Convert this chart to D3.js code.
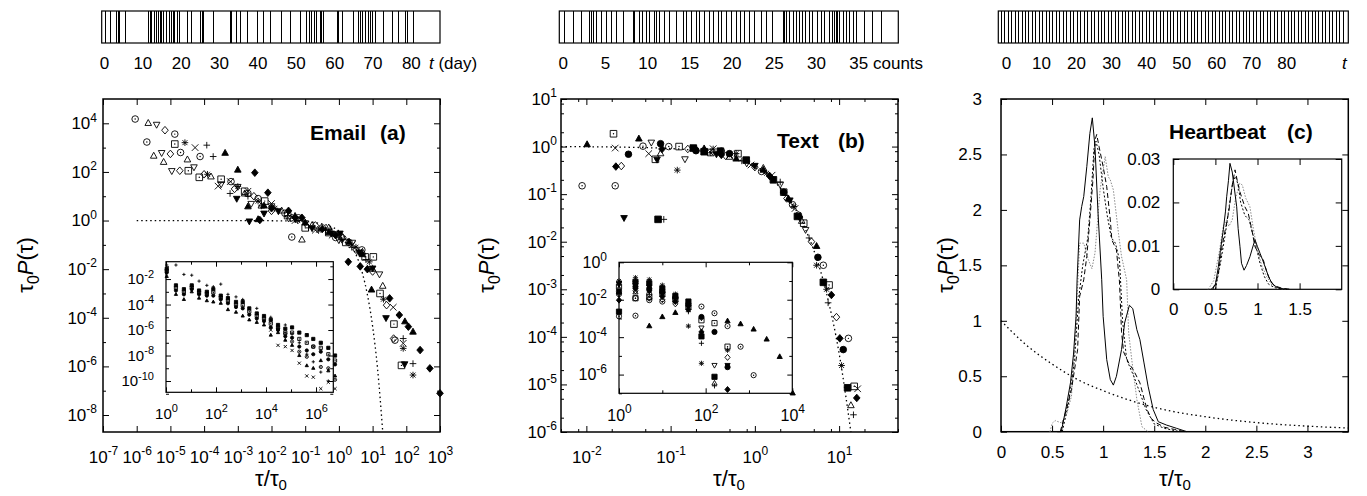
<!DOCTYPE html>
<html>
<head>
<meta charset="utf-8">
<title>Interevent time distributions</title>
<script src="https://d3js.org/d3.v7.min.js"></script>
<style>
  body { margin: 0; background: #fff; }
  text { fill: #000; }
</style>
</head>
<body>
<svg id="chart" width="1367" height="496"></svg>
<script>
// ---------- top strips: event times ----------
const emailDays = [0.5, 1.7, 3.3, 3.7, 4.0, 5.5, 11.6, 12.0, 12.4, 13.1, 13.6, 14.2, 14.6, 15.1, 15.5, 16.2, 17.2, 17.7, 18.1, 18.5, 19.1, 19.8, 21.7, 22.9, 25.2, 25.6, 25.9, 28.5, 32.9, 33.3, 34.6, 35.5, 37.3, 40.1, 41.6, 43.3, 46.4, 48.6, 51.2, 52.7, 53.6, 54.2, 54.8, 55.5, 56.4, 56.8, 57.3, 60.8, 61.2, 62.1, 65.1, 66.4, 66.8, 67.3, 68.1, 69.0, 69.5, 69.9, 70.8, 72.9, 75.1, 76.9, 78.6, 79.0, 80.8];
const emailDayTicks = [0, 10, 20, 30, 40, 50, 60, 70, 80];
const textCounts = [0.27, 1.26, 2.24, 3.23, 3.42, 3.62, 4.0, 4.6, 5.2, 5.8, 6.4, 7.2, 8.35, 8.55, 9.14, 9.5, 9.9, 10.3, 10.9, 11.1, 11.5, 12.1, 12.7, 13.5, 14.3, 14.7, 15.2, 15.8, 16.2, 16.8, 17.4, 17.8, 18.4, 18.8, 19.4, 20.0, 20.6, 21.0, 21.5, 22.1, 22.7, 23.5, 24.1, 24.9, 26.1, 26.3, 26.5, 26.9, 27.3, 27.7, 28.0, 28.4, 28.8, 29.2, 29.6, 30.2, 30.6, 31.0, 31.6, 32.0, 32.2, 32.4, 32.6, 32.8, 33.2, 33.6, 34.0, 34.4, 34.8, 35.7, 36.7, 37.7];
const textCountTicks = [0, 5, 10, 15, 20, 25, 30, 35];
const heartBeats = [-1.4, -0.4, 0.6, 1.6, 2.6, 3.6, 4.6, 5.5, 6.5, 7.5, 8.5, 9.5, 10.5, 11.5, 12.5, 13.4, 14.4, 15.4, 16.4, 17.4, 18.4, 19.4, 20.3, 21.3, 22.3, 23.3, 24.3, 25.3, 26.3, 27.2, 28.2, 29.2, 30.2, 31.2, 32.2, 33.2, 34.1, 35.1, 36.1, 37.1, 38.1, 39.1, 40.1, 41.0, 42.0, 43.0, 44.0, 45.0, 46.0, 47.0, 47.9, 48.9, 49.9, 50.9, 51.9, 52.9, 53.9, 54.8, 55.8, 56.8, 57.8, 58.8, 59.8, 60.8, 61.7, 62.7, 63.7, 64.7, 65.7, 66.7, 67.7, 68.6, 69.6, 70.6, 71.6, 72.6, 73.6, 74.6, 75.5, 76.5, 77.5, 78.5, 79.5, 80.5, 81.5, 82.4, 83.4, 84.4, 85.4, 86.4, 87.4, 88.4, 89.3, 90.3, 91.3, 92.3, 93.3, 94.3, 95.3, 96.2];
const heartTicks = [0, 10, 20, 30, 40, 50, 60, 70, 80];

// ---------- (a) Email: [tau/tau0, tau0 P(tau)] ----------
const emailCirc = [[9e-7,1.5e4],[2e-6,1.7e3],[1.35e-5,3.6e3],[2e-5,630],[7.6e-5,430],[6.3e-4,40],[2e-3,13],[4e-3,8],[0.025,2],[0.04,0.21],[0.063,1.3],[0.32,0.5],[0.8,0.2],[2,0.126],[4.8,0.062],[46,1.2e-5]];
const emailTri = [[2.2e-6,1e4],[3.2e-6,450],[6.3e-6,250],[3.2e-5,316],[1.6e-4,63],[1.6e-3,12.6],[5e-3,4],[0.02,2.5],[0.08,0.16],[0.16,0.63],[0.5,0.5],[1.26,0.2],[5,0.05],[10,0.01],[20,2e-3]];
const emailTriD = [[3.9e-6,9e3],[5.5e-6,620],[1.1e-5,112],[5e-5,160],[3.2e-4,32],[1e-3,25],[2.5e-3,5],[0.01,4],[0.032,1.26],[0.1,0.8],[0.5,0.4],[1,0.16],[2.5,0.126],[16,6.3e-3]];
const emailDia = [[6.9e-6,5.2e3],[1e-5,550],[1.9e-5,112],[1e-4,80],[8e-4,20],[3e-3,10],[0.01,2.5],[0.04,1.3],[0.2,0.63],[1.3,0.2],[3.2,0.063],[10,8e-3],[26,3.3e-4],[42,1.4e-5]];
const emailSq = [[1.35e-5,1.4e3],[3.4e-5,112],[7.2e-5,60],[3.2e-4,50],[1.6e-3,16],[6.3e-3,6.3],[0.03,1.6],[0.1,0.5],[0.5,0.32],[1.6,0.126],[6,0.032],[10.5,0.032],[16.6,1e-3],[43,5.5e-5],[72,1.1e-6]];
const emailStar = [[2.7e-5,1.6e3],[1.26e-4,80],[1e-3,25],[4e-3,6.3],[0.0126,3.2],[0.06,1.0],[0.25,0.4],[1.2,0.16],[3.2,0.08],[8,0.02],[21,5.8e-4],[81,5.5e-6],[158,4.4e-7]];
const emailCross = [[5.4e-5,1e3],[2.6e-4,26],[6e-4,40],[2e-3,16],[0.01,5],[0.05,1],[0.2,0.4],[0.63,0.25],[2.5,0.1],[4,0.05],[41,2.7e-4],[81,8.9e-6]];
const emailPlus = [[1.2e-4,1.26e3],[1.86e-4,430],[5.9e-4,13],[2e-3,10],[5e-3,4],[0.03,1.6],[0.126,0.5],[0.4,0.4],[2.4,0.08],[6.3,0.025],[81,1.4e-5],[158,1.3e-6]];
const emailTriF = [[4.2e-4,590],[1e-3,120],[2e-3,3.7],[4e-3,1.1],[6e-3,4],[0.05,1.5],[0.1,0.8],[0.5,0.32],[2,0.13],[5,0.04],[9.3,1.4e-3],[91,6.9e-5],[158,2.6e-5]];
const emailDiaF = [[3.2e-3,93],[4.5e-3,1.05],[7.8e-3,14],[0.01,3.2],[0.032,2.5],[0.08,1.3],[0.32,0.45],[0.8,0.25],[1.9,0.02],[4.3,0.013],[7,0.01],[32,6.3e-4],[62,1.3e-4],[115,4.3e-5],[257,4.7e-6],[500,8.3e-7],[1000,7.8e-8]];
const emailTriDF = [[9.3e-4,8.1],[2.2e-3,0.95],[6e-3,2],[0.016,2.5],[0.05,1.2],[0.16,0.5],[0.6,0.3],[1.07,0.3],[4,0.05],[10,0.011],[25,1e-4],[89,1.26e-6]];
const emailPoisson = [[1e-6,1],[1e-3,1],[0.05,0.95],[0.2,0.82],[0.5,0.61],[1,0.37],[2,0.135],[3,0.05],[5,6.7e-3],[7,9e-4],[10,4.5e-5],[14,8.3e-7],[20,2e-9]];

// (a) inset: raw tau (columns) vs P(tau)
const emailInsetX = [1.07, 2.5, 5.2, 10.7, 21, 43, 78, 155, 300, 630, 1170, 2140, 4270, 8300, 15500, 30200, 59000, 110000, 214000, 427000, 776000, 1.55e6, 3.1e6, 5.75e6];
const emailInTop = [0.126, 0.126, 2.3e-2, 2e-2, 6.9e-3, 3.2e-3, 2.5e-3, 4e-3, 6.3e-4, 4e-4, 2.5e-4, null, 5e-5, null, 1e-5, null, 2.5e-6, 5e-7, 1e-7, 1.26e-8, 3.2e-9, 5e-10, 1e-10, null];
const emailInHi = [6.3e-2, 3.2e-3, 1.6e-3, 3.2e-3, 1.26e-3, 1e-3, 1.6e-3, 5e-4, 3.2e-4, 1.6e-4, 1.6e-4, 5e-5, 2e-5, 1.26e-5, 6.3e-6, 2.5e-6, 1.26e-6, 1.6e-6, 6.3e-7, 4e-7, 2e-7, 1e-7, 4e-8, 1e-8];
const emailInMid1 = [4.5e-2, 2e-3, 1e-3, 2.2e-3, 8.9e-4, 7e-4, 8.9e-4, 3.5e-4, 2e-4, 1e-4, 8.9e-5, 2.8e-5, 1.26e-5, 8e-6, 3.2e-6, 1.6e-6, 6.3e-7, 6.3e-7, 2e-7, 1e-7, 5e-8, 4e-8, 1.26e-8, 4e-9];
const emailInMid2 = [3.2e-2, 1.26e-3, 6.3e-4, 1.6e-3, 6.3e-4, 5e-4, 5e-4, 2.5e-4, 1.26e-4, 6.3e-5, 5e-5, 1.6e-5, 8e-6, 5e-6, 1.6e-6, 1e-6, 3.2e-7, 2.5e-7, 5e-8, 2.5e-8, 1.26e-8, 2e-8, 5e-9, 2e-9];
const emailInLo = [1.6e-2, 6.3e-4, 2.5e-4, 1e-3, 3.2e-4, 2e-4, 1.6e-4, 1.26e-4, 4e-5, 2.5e-5, 1.26e-5, 6.3e-6, 4e-6, 2.5e-6, 4e-7, 6.3e-7, 1.6e-7, 6.3e-8, 1e-8, 1.6e-9, 1e-9, 4e-9, 6.3e-10, 2.5e-10];
const emailInTail1 = [null, null, null, null, null, null, null, null, null, null, null, null, null, null, 1e-6, 6.3e-8, 5e-8, 2.5e-8, 2.5e-9, 2.5e-10, 2e-10, 2.5e-11, 8e-11, 2.5e-11];
const emailInTail2 = [null, null, null, null, null, null, null, null, null, null, null, null, null, null, null, 1.26e-6, 5e-7, 1.26e-7, 2e-8, 8e-9, 5e-8, 1.26e-9, 1e-9, 1.26e-10];

// ---------- (b) Text ----------
const textTriF = [[0.0102,1.1],[0.042,1.45],[0.25,0.9],[0.6,0.55],[1.26,0.32],[2.5,0.08],[5.4,8e-3]];
const textCross = [[0.022,0.93],[0.055,0.71],[0.32,0.9],[0.9,0.41],[1.6,0.25],[3,0.05],[16.6,8.1e-6]];
const textSq = [[0.021,1.86],[0.066,0.54],[0.126,1.0],[0.3,0.75],[0.63,0.71],[2.2,0.11],[3.8,0.0245],[7.6,1.23e-3],[15.1,9.1e-6]];
const textTriD = [[0.059,1.23],[0.148,0.55],[0.25,0.8],[0.8,0.45],[2,0.16],[4,0.018]];
const textCirc = [[0.0089,0.15],[0.022,0.15],[0.047,1.02],[0.095,1.0],[0.4,0.8],[1.2,0.3],[2.8,0.06],[3.3,0.036],[6.5,3.2e-3],[12.9,9.3e-5]];
const textCircF = [[0.0316,0.69],[0.076,1.15],[0.2,0.82],[0.5,0.71],[2.2,0.11],[5.6,4.7e-3],[11.2,5.4e-5]];
const textDiaF = [[0.0224,0.38],[0.079,0.89],[0.4,0.67],[1.5,0.24],[3.4,0.033],[8.1,7.6e-4],[10.2,9.3e-5],[16.2,5.2e-6]];
const textDia = [[0.026,0.39],[0.16,0.89],[0.45,0.64],[1.0,0.37],[2.4,0.081],[4.7,0.01],[9.3,2.6e-4]];
const textTri = [[0.076,0.71],[0.2,0.89],[0.5,0.6],[1.26,0.35],[3.6,0.027],[13.8,3.6e-6]];
const textTriDF = [[0.028,0.032],[0.069,0.54],[0.35,0.7],[1,0.4],[2.6,0.075]];
const textSqF = [[0.071,0.0295],[0.186,0.93],[0.25,0.78],[0.39,0.8],[0.79,0.52],[1.66,0.2],[3.2,0.034],[6.5,1.4e-3],[12.6,8.5e-6]];
const textPlus = [[0.083,0.0295],[0.32,0.89],[0.7,0.5],[2,0.18],[4.4,0.012],[7.4,5.2e-4],[14.8,2.3e-6]];
const textStar = [[0.12,0.32],[0.3,0.74],[0.6,0.71],[1.38,0.275],[2.9,0.055],[5.4,3.2e-3],[7.1,1e-3],[10.7,2.5e-5]];
const textPoisson = [[0.005,1],[0.05,0.95],[0.2,0.82],[0.5,0.61],[1,0.37],[2,0.135],[3,0.05],[4,0.018],[5,6.7e-3],[7,9e-4],[10,4.5e-5],[13.8,1e-6]];

// (b) inset columns
const textInsetX = [1, 2.4, 5, 10, 20, 40, 80, 160, 320, 640, 1280, 2560, 5120, 10240];
const textInTriF = [null, null, 3.9e-4, 1.2e-3, 2e-3, null, null, null, 7.2e-4, 5e-4, 2.6e-4, 7.6e-5, 8.9e-6, 1e-7];
const textInStar = [0.1, 0.15, 0.12, 0.06, 0.02, 3.9e-4, 4e-6, null, 2e-5, null, null, null, null, null];
const textInCirc = [1.3e-3, 1.4e-3, 9.5e-3, 8e-3, null, null, 4.3e-3, 1.9e-3, 3.9e-4, 3.1e-5, 9.3e-7, null, null, null];
const textInCirc2 = [0.02, 0.012, 0.02, 0.025, 0.012, 6e-3, null, null, null, null, null, null, null, null];
const textInSqF = [2.3e-3, 0.09, 0.076, 0.04, 0.016, 8e-3, 1.1e-4, 7.6e-7, null, null, null, null, null, null];
const textInCircF = [0.027, 0.05, 0.04, 0.027, 0.014, 5e-3, 1.2e-3, 1.9e-4, 2.5e-6, null, null, null, null, null];
const textInSq = [0.05, 0.012, 0.014, 0.02, 0.01, 4e-3, 8e-4, 5.6e-4, 3.1e-5, null, null, null, null, null];
const textInTriD = [0.08, 0.06, 0.03, 0.02, null, null, 3.2e-4, 3.2e-6, null, null, null, null, null, null];
const textInDia = [0.022, 0.03, 0.012, 0.01, 6e-3, null, null, null, 8.3e-6, null, null, null, null, null];
const textInDiaF = [9.5e-3, 0.04, 0.03, 0.015, 8e-3, 3e-3, 1.9e-4, null, 1.6e-7, null, null, null, null, null];
const textInTriDF = [0.07, 0.08, 0.05, 0.03, null, null, null, null, 3.2e-6, null, null, null, null, null];
const textInTri = [0.04, 0.025, null, null, null, null, null, 3.4e-7, null, null, null, null, null, null];
const textInPlus = [0.06, 0.07, null, null, null, 2.3e-3, 4.7e-5, 2.5e-7, null, null, null, null, null, null];

// ---------- (c) Heartbeat ----------
const heartSolid = [[0.55,0],[0.59,0],[0.64,0.23],[0.68,0.44],[0.71,0.7],[0.735,1.04],[0.745,1.37],[0.77,1.91],[0.79,2.03],[0.81,2.12],[0.84,2.39],[0.87,2.69],[0.894,2.83],[0.92,2.57],[0.95,1.97],[0.986,1.37],[1.0,1.04],[1.035,0.65],[1.07,0.47],[1.1,0.42],[1.13,0.5],[1.18,0.74],[1.21,0.98],[1.257,1.14],[1.29,1.11],[1.33,0.92],[1.36,0.83],[1.4,0.62],[1.44,0.41],[1.49,0.2],[1.54,0.09],[1.62,0.06],[1.72,0.03],[1.82,0]];
const heartDashed = [[0.58,0],[0.64,0.2],[0.69,0.38],[0.72,0.56],[0.75,0.74],[0.77,1.22],[0.81,1.37],[0.84,1.58],[0.87,1.91],[0.9,2.27],[0.92,2.63],[0.937,2.68],[0.96,2.57],[1.0,2.39],[1.035,2.21],[1.07,1.91],[1.085,1.73],[1.13,1.64],[1.16,1.35],[1.18,0.9],[1.2,0.72],[1.25,0.62],[1.3,0.55],[1.36,0.44],[1.4,0.3],[1.43,0.2],[1.47,0.12],[1.52,0.08],[1.6,0.04],[1.7,0.02],[1.8,0]];
const heartDotted = [[0.6,0],[0.66,0.25],[0.72,0.65],[0.76,1.2],[0.8,1.5],[0.85,1.75],[0.88,2.1],[0.91,2.55],[0.93,2.62],[0.96,2.5],[1.0,2.2],[1.04,1.95],[1.08,1.75],[1.12,1.7],[1.16,1.55],[1.19,1.0],[1.23,0.65],[1.3,0.5],[1.36,0.35],[1.42,0.2],[1.5,0.07],[1.6,0.03],[1.75,0]];
const heartGray = [[0.48,0],[0.5,0.075],[0.53,0.1],[0.59,0.08],[0.64,0.15],[0.69,0.32],[0.73,0.9],[0.77,1.7],[0.81,1.7],[0.855,1.55],[0.89,1.47],[0.92,1.61],[0.97,2.18],[1.02,2.48],[1.05,2.3],[1.07,2.27],[1.1,2.18],[1.15,1.79],[1.18,1.58],[1.23,1.37],[1.25,0.89],[1.28,0.65],[1.33,0.29],[1.38,0.045],[1.44,0]];
const heartPoisson = [[0,1],[0.25,0.78],[0.5,0.61],[0.75,0.47],[1,0.37],[1.5,0.22],[2,0.135],[2.5,0.082],[3,0.05],[3.4,0.033]];
// (c) inset
const heartInSolid = [[0.45,0],[0.5,0.001],[0.535,0.0052],[0.56,0.009],[0.594,0.0137],[0.62,0.018],[0.634,0.0213],[0.655,0.025],[0.673,0.029],[0.7,0.027],[0.72,0.024],[0.753,0.019],[0.77,0.014],[0.792,0.0098],[0.81,0.006],[0.84,0.0044],[0.87,0.0055],[0.91,0.0075],[0.94,0.0095],[0.97,0.0114],[1.0,0.0098],[1.03,0.0083],[1.06,0.0068],[1.09,0.0052],[1.13,0.003],[1.17,0.0014],[1.22,0.0006],[1.27,0.0002],[1.35,0]];
const heartInDashed = [[0.47,0],[0.53,0.003],[0.58,0.01],[0.62,0.014],[0.66,0.018],[0.7,0.024],[0.733,0.0275],[0.76,0.025],[0.79,0.0225],[0.81,0.0213],[0.85,0.019],[0.89,0.0175],[0.93,0.014],[0.97,0.0098],[1.02,0.008],[1.07,0.0067],[1.11,0.004],[1.15,0.0021],[1.2,0.0008],[1.3,0.0002],[1.4,0]];
const heartInDotted = [[0.5,0],[0.56,0.006],[0.62,0.013],[0.67,0.02],[0.71,0.025],[0.74,0.026],[0.77,0.024],[0.8,0.02],[0.85,0.017],[0.9,0.016],[0.94,0.013],[0.98,0.01],[1.03,0.006],[1.08,0.003],[1.13,0.0012],[1.2,0.0004],[1.3,0]];
const heartInGray = [[0.415,0],[0.48,0.002],[0.55,0.009],[0.594,0.0146],[0.634,0.016],[0.66,0.0145],[0.7,0.016],[0.74,0.021],[0.79,0.0244],[0.82,0.024],[0.86,0.021],[0.91,0.019],[0.95,0.014],[0.99,0.0098],[1.05,0.0055],[1.11,0.0029],[1.17,0.001],[1.25,0.0002],[1.35,0]];

// ---------- drawing ----------
const FONT = '"Liberation Sans", Arial, Helvetica, sans-serif';
const svg = d3.select("#chart").attr("font-family", FONT);

function box(x0, y0, x1, y1, fillWhite) {
  const g = svg.append("g").attr("transform", `translate(${x0},${y0})`);
  g.w = x1 - x0; g.h = y1 - y0;
  if (fillWhite) g.append("rect").attr("width", g.w).attr("height", g.h).attr("fill", "#fff");
  return g;
}

// "10^-2" -> 10 with superscript
function supLabel(t, fs) {
  const s = t.text();
  if (!s.includes("^")) return;
  const [b, e] = s.split("^");
  t.text(null);
  t.append("tspan").text(b);
  t.append("tspan").attr("font-size", Math.round(fs * 0.72)).attr("dy", -fs * 0.45).text(e);
}
const pow10 = d => "10^" + Math.round(Math.log10(d));

function axes(g, sx, sy, o) {
  const w = g.w, h = g.h, maj = o.maj || 6, mn = o.mn || 3, fs = o.fs || 17;
  const put = (axis, tx, ty, pad, ticks, len, fmt) => {
    if (!ticks) return;
    const a = g.append("g").attr("transform", `translate(${tx},${ty})`)
      .call(axis.tickValues(ticks).tickSize(-len).tickPadding(pad).tickFormat(fmt || (() => "")));
    a.select(".domain").remove();
    a.attr("font-size", null).attr("font-family", null);
    a.selectAll(".tick line").attr("stroke", "#000");
    a.selectAll(".tick text").attr("font-size", fs).attr("fill", "#000")
      .each(function () { supLabel(d3.select(this), fs); });
  };
  put(d3.axisBottom(sx), 0, h, o.xPad, o.xMaj, maj, o.xFmt);
  put(d3.axisTop(sx), 0, 0, 0, o.xMaj, maj);
  put(d3.axisLeft(sy), 0, 0, o.yPad, o.yMaj, maj, o.yFmt);
  put(d3.axisRight(sy), w, 0, 0, o.yMaj, maj);
  put(d3.axisBottom(sx), 0, h, 0, o.xMin, mn);
  put(d3.axisTop(sx), 0, 0, 0, o.xMin, mn);
  put(d3.axisLeft(sy), 0, 0, 0, o.yMin, mn);
  put(d3.axisRight(sy), w, 0, 0, o.yMin, mn);
  g.append("rect").attr("width", w).attr("height", h).attr("fill", "none")
    .attr("stroke", "#000").attr("stroke-width", o.frame || 1.5);
}

function markPath(t, r) {
  const tr = r * 1.15;
  switch (t) {
    case "plus": return `M${-r},0H${r}M0,${-r}V${r}`;
    case "cross": return `M${-r},${-r}L${r},${r}M${-r},${r}L${r},${-r}`;
    case "star": return markPath("plus", r) + markPath("cross", r * 0.75);
    case "sq": case "sqF": return `M${-r},${-r}H${r}V${r}H${-r}Z`;
    case "circ": case "circF": return `M${r},0A${r},${r} 0 1,1 ${-r},0A${r},${r} 0 1,1 ${r},0Z`;
    case "tri": case "triF": return `M0,${-tr}L${r},${r * 0.65}L${-r},${r * 0.65}Z`;
    case "triD": case "triDF": return `M0,${tr}L${r},${-r * 0.65}L${-r},${-r * 0.65}Z`;
    default: return `M0,${-tr}L${r},0L0,${tr}L${-r},0Z`;
  }
}

function scatter(g, sx, sy, type, pts, r) {
  const filled = type.endsWith("F");
  const s = g.append("g");
  s.selectAll("path").data(pts).join("path")
    .attr("transform", d => `translate(${sx(d[0])},${sy(d[1])})`)
    .attr("d", markPath(type, r))
    .attr("fill", filled ? "#000" : "none")
    .attr("stroke", "#000").attr("stroke-width", 0.9);
  if (type === "circ" || type === "sq") {
    s.selectAll("circle").data(pts).join("circle")
      .attr("cx", d => sx(d[0])).attr("cy", d => sy(d[1])).attr("r", 0.7).attr("fill", "#000");
  }
}
const zipCols = (xs, ys) => xs.map((x, i) => [x, ys[i]]).filter(d => d[1] != null);

function curve(g, sx, sy, pts, style, smooth) {
  const line = d3.line().x(d => sx(d[0])).y(d => sy(d[1]));
  if (smooth) line.curve(d3.curveMonotoneX);
  g.append("path").datum(pts).attr("d", line).attr("fill", "none")
    .attr("stroke", style.color || "#000").attr("stroke-width", style.width || 1)
    .attr("stroke-dasharray", style.dash || null);
}

function yTitle(x, y) {
  const t = svg.append("text").attr("transform", `translate(${x},${y}) rotate(-90)`)
    .attr("text-anchor", "middle").attr("font-size", 22);
  t.append("tspan").text("τ");
  t.append("tspan").attr("font-size", 16).attr("dy", 6).text("0");
  t.append("tspan").attr("font-style", "italic").attr("dy", -6).text("P");
  t.append("tspan").text("(τ)");
}
function xTitle(x, y) {
  const t = svg.append("text").attr("x", x).attr("y", y).attr("text-anchor", "middle").attr("font-size", 22);
  t.append("tspan").text("τ/τ");
  t.append("tspan").attr("font-size", 15).attr("dy", 4).text("0");
}
function title(x1, x2, y, word, tag) {
  svg.append("text").attr("x", x1).attr("y", y).attr("font-size", 21).attr("font-weight", "bold").text(word);
  svg.append("text").attr("x", x2).attr("y", y).attr("font-size", 21).attr("font-weight", "bold").text(tag);
}

function strip(x0, x1, dom, events, ticks) {
  const sx = d3.scaleLinear().domain(dom).range([x0, x1]);
  const g = svg.append("g");
  g.selectAll("line").data(events).join("line")
    .attr("x1", d => sx(d)).attr("x2", d => sx(d)).attr("y1", 11).attr("y2", 43)
    .attr("stroke", "#000").attr("stroke-width", 1).attr("shape-rendering", "crispEdges");
  g.append("rect").attr("x", x0).attr("y", 11).attr("width", x1 - x0).attr("height", 32)
    .attr("fill", "none").attr("stroke", "#000").attr("stroke-width", 1.2);
  const a = g.append("g").attr("transform", "translate(0,43)")
    .call(d3.axisBottom(sx).tickValues(ticks).tickSize(0).tickPadding(14));
  a.select(".domain").remove();
  a.attr("font-size", null).attr("font-family", null);
  a.selectAll("text").attr("font-size", 17).attr("fill", "#000");
}

// top strips
strip(101.7, 440, [-0.6, 87.6], emailDays, emailDayTicks);
strip(559.3, 898.3, [-0.4, 39.74], textCounts, textCountTicks);
strip(998.3, 1348.3, [-2.2, 97.7], heartBeats, heartTicks);
{
  const t = svg.append("text").attr("x", 429).attr("y", 69).attr("font-size", 17);
  t.append("tspan").attr("font-style", "italic").text("t");
  t.append("tspan").text(" (day)");
  svg.append("text").attr("x", 873).attr("y", 69).attr("font-size", 17).text("counts");
  svg.append("text").attr("x", 1342).attr("y", 69).attr("font-size", 17).attr("font-style", "italic").text("t");
}

// ----- panel (a) -----
{
  const g = box(103, 99, 440, 432);
  const sx = d3.scaleLog().domain([1e-7, 1e3]).range([0, g.w]);
  const sy = d3.scaleLog().domain([2e-9, 1e5]).range([g.h, 0]);
  axes(g, sx, sy, {
    xMaj: [1e-7, 1e-6, 1e-5, 1e-4, 1e-3, 1e-2, 1e-1, 1, 10, 100, 1000], xFmt: pow10, xPad: 19,
    yMaj: [1e-8, 1e-6, 1e-4, 1e-2, 1, 100, 1e4], yFmt: pow10, yPad: 6,
    yMin: [1e-7, 1e-5, 1e-3, 0.1, 10, 1000]
  });
  curve(g, sx, sy, emailPoisson, { dash: "1.5,3", width: 1.3 }, true);
  [["circ", emailCirc], ["tri", emailTri], ["triD", emailTriD], ["dia", emailDia], ["sq", emailSq],
   ["star", emailStar], ["cross", emailCross], ["plus", emailPlus], ["triF", emailTriF],
   ["diaF", emailDiaF], ["triDF", emailTriDF]].forEach(([t, p]) => scatter(g, sx, sy, t, p, 3.3));

  const gi = box(166, 261.7, 333.3, 392.3, true);
  const ix = d3.scaleLog().domain([1, 4.9e6]).range([0, gi.w]);
  const iy = d3.scaleLog().domain([1.3e-11, 0.23]).range([gi.h, 0]);
  axes(gi, ix, iy, {
    fs: 15, maj: 5, mn: 3, frame: 1.2,
    xMaj: [1, 100, 1e4, 1e6], xFmt: pow10, xPad: 16, xMin: [10, 1000, 1e5],
    yMaj: [1e-10, 1e-8, 1e-6, 1e-4, 1e-2], yFmt: pow10, yPad: 12,
    yMin: [1e-11, 1e-9, 1e-7, 1e-5, 1e-3, 0.1]
  });
  [["plus", emailInTop], ["sqF", emailInHi], ["sq", emailInMid1], ["circF", emailInMid2],
   ["triF", emailInLo], ["cross", emailInTail1], ["circ", emailInTail2]]
    .forEach(([t, v]) => scatter(gi, ix, iy, t, zipCols(emailInsetX, v), 1.6));
}

// ----- panel (b) -----
{
  const g = box(561, 99, 898, 432);
  const sx = d3.scaleLog().domain([0.005, 50]).range([0, g.w]);
  const sy = d3.scaleLog().domain([1e-6, 10]).range([g.h, 0]);
  axes(g, sx, sy, {
    xMaj: [0.01, 0.1, 1, 10], xFmt: pow10, xPad: 19,
    xMin: [0.005, 0.008, 0.02, 0.05, 0.08, 0.2, 0.5, 0.8, 2, 5, 8, 20, 50],
    yMaj: [1e-6, 1e-5, 1e-4, 1e-3, 1e-2, 0.1, 1, 10], yFmt: pow10, yPad: 4,
    yMin: [2e-6, 5e-6, 8e-6, 2e-5, 5e-5, 8e-5, 2e-4, 5e-4, 8e-4, 2e-3, 5e-3, 8e-3, 0.02, 0.05, 0.08, 0.2, 0.5, 0.8, 2, 5, 8]
  });
  curve(g, sx, sy, textPoisson, { dash: "1.5,3", width: 1.3 }, true);
  [["triF", textTriF], ["cross", textCross], ["sq", textSq], ["triD", textTriD], ["circ", textCirc],
   ["circF", textCircF], ["diaF", textDiaF], ["dia", textDia], ["tri", textTri], ["triDF", textTriDF],
   ["sqF", textSqF], ["plus", textPlus], ["star", textStar]].forEach(([t, p]) => scatter(g, sx, sy, t, p, 3.3));

  const gi = box(619, 262.3, 792.3, 393.3, true);
  const ix = d3.scaleLog().domain([1, 1e4]).range([0, gi.w]);
  const iy = d3.scaleLog().domain([1e-7, 1]).range([gi.h, 0]);
  axes(gi, ix, iy, {
    fs: 16, maj: 5, mn: 3, frame: 1.2,
    xMaj: [1, 100, 1e4], xFmt: pow10, xPad: 16, xMin: [10, 1000],
    yMaj: [1e-6, 1e-4, 1e-2, 1], yFmt: pow10, yPad: 12, yMin: [1e-7, 1e-5, 1e-3, 0.1]
  });
  [["triF", textInTriF], ["star", textInStar], ["circ", textInCirc], ["circ", textInCirc2],
   ["sqF", textInSqF], ["circF", textInCircF], ["sq", textInSq], ["triD", textInTriD],
   ["dia", textInDia], ["diaF", textInDiaF], ["triDF", textInTriDF], ["tri", textInTri],
   ["plus", textInPlus]].forEach(([t, v]) => scatter(gi, ix, iy, t, zipCols(textInsetX, v), 2.6));
}

// ----- panel (c) -----
{
  const g = box(1001, 99, 1348.3, 431.7);
  const sx = d3.scaleLinear().domain([0, 3.4]).range([0, g.w]);
  const sy = d3.scaleLinear().domain([0, 3]).range([g.h, 0]);
  axes(g, sx, sy, {
    xMaj: [0, 0.5, 1, 1.5, 2, 2.5, 3], xFmt: d => String(d), xPad: 14,
    yMaj: [0, 0.5, 1, 1.5, 2, 2.5, 3], yFmt: d => String(d), yPad: 19
  });
  curve(g, sx, sy, heartPoisson, { dash: "1.5,3", width: 1.3 }, true);
  curve(g, sx, sy, heartGray, { color: "#8a8a8a", dash: "1.5,1.5" });
  curve(g, sx, sy, heartDotted, { dash: "2,2" });
  curve(g, sx, sy, heartDashed, { dash: "5,3" });
  curve(g, sx, sy, heartSolid, {});

  const gi = box(1173.3, 159, 1341.7, 289.3, true);
  const ix = d3.scaleLinear().domain([0, 2]).range([0, gi.w]);
  const iy = d3.scaleLinear().domain([0, 0.03]).range([gi.h, 0]);
  axes(gi, ix, iy, {
    fs: 17, maj: 6, frame: 1.2,
    xMaj: [0, 0.5, 1, 1.5], xFmt: d => String(d), xPad: 14,
    yMaj: [0, 0.01, 0.02, 0.03], yFmt: d => String(d), yPad: 13
  });
  curve(gi, ix, iy, heartInGray, { color: "#8a8a8a", dash: "1.5,1.5" });
  curve(gi, ix, iy, heartInDotted, { dash: "2,2" });
  curve(gi, ix, iy, heartInDashed, { dash: "5,3" });
  curve(gi, ix, iy, heartInSolid, {});
}

// titles and axis labels
title(310, 380, 139.5, "Email", "(a)");
title(777, 838, 148.3, "Text", "(b)");
title(1169, 1287, 138.5, "Heartbeat", "(c)");
yTitle(33, 265); yTitle(494, 265); yTitle(953, 265);
xTitle(271, 486); xTitle(729, 486); xTitle(1175, 486);
</script>
</body>
</html>
